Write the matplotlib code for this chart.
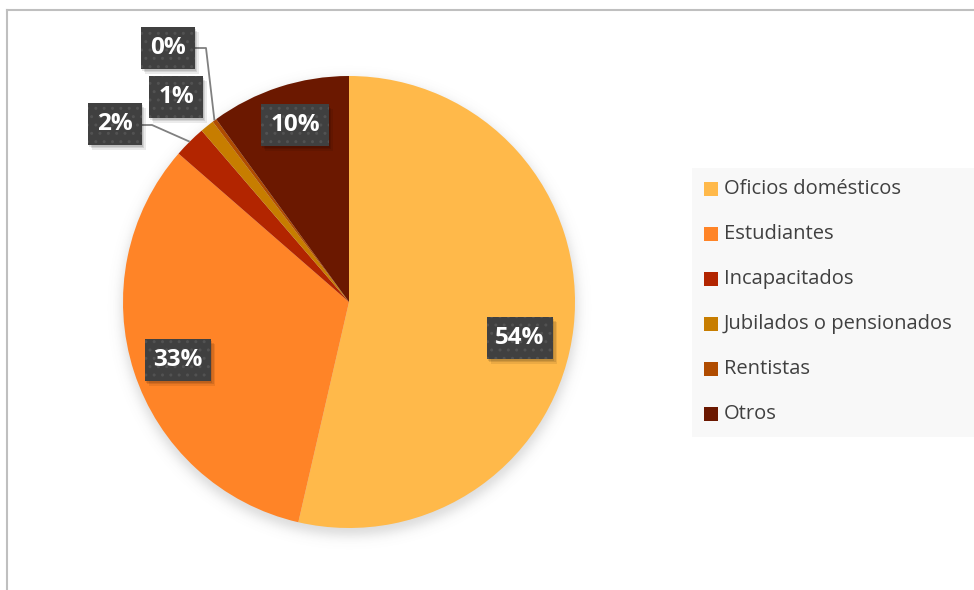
import numpy as np
import matplotlib
matplotlib.use("Agg")
import matplotlib.pyplot as plt
from matplotlib.patches import Rectangle

# ---- data ----
categories = ["Oficios domésticos", "Estudiantes", "Incapacitados",
              "Jubilados o pensionados", "Rentistas", "Otros"]
values = [53.6, 32.8, 2.3, 1.0, 0.3, 10.0]
colors = ["#FFB94A", "#FF8427", "#B22500", "#C77D00", "#B04C00", "#6B1800"]

# ---- layout (pixel coordinates, y measured from top) ----
W, H = 974, 590
center_px = (349, 302)
radius_px = 226
label_pos_px = [(520, 338), (178, 360), (115, 124), (176, 97), (168, 48), (295, 125)]
leader = [False, False, True, False, True, False]

plt.rcParams['font.family'] = ['Open Sans', 'DejaVu Sans']

fig = plt.figure(figsize=(W / 100, H / 100), dpi=100)
ax = fig.add_axes([0, 0, 1, 1])
ax.set_xlim(0, W)
ax.set_ylim(0, H)
ax.axis('off')

def py(y):
    return H - y

cx, cy = center_px[0], py(center_px[1])

# soft shadow under the pie
xs = np.arange(0, W)
ys = np.arange(0, H)
X, Y = np.meshgrid(xs, ys)
d = np.hypot(X - cx, Y - (cy - 6))
alpha = 0.22 * 0.5 * (1 - np.tanh((d - radius_px - 2) / 7.0))
img = np.zeros((H, W, 4))
img[..., :3] = 0.35
img[..., 3] = alpha
ax.imshow(img, extent=(0, W, 0, H), origin='lower', zorder=0, interpolation='bilinear')

wedges, _ = ax.pie(values, colors=colors, startangle=90, counterclock=False,
                   center=(cx, cy), radius=radius_px,
                   wedgeprops=dict(linewidth=0), frame=False)
for w in wedges:
    w.set_zorder(1)
ax.set_xlim(0, W)
ax.set_ylim(0, H)
ax.set_aspect('equal')

# data labels
label_texts = []
for i, (w, v) in enumerate(zip(wedges, values)):
    lx, ly = label_pos_px[i]
    lyd = py(ly)
    txt = f"{v:.0f}%"
    t = ax.text(lx, lyd, txt, fontsize=17.5, fontweight='bold', color='white',
                ha='center', va='center', zorder=4,
                bbox=dict(boxstyle='square,pad=0.36', facecolor='#404040',
                          edgecolor='#525252', linewidth=0, hatch='..'))
    label_texts.append(t)
    if leader[i]:
        ang = np.deg2rad((w.theta1 + w.theta2) / 2)
        ex = cx + radius_px * np.cos(ang)
        ey = cy + radius_px * np.sin(ang)
        if i == 2:
            pts = [(140, py(125)), (152, py(125)), (ex, ey)]
        else:
            pts = [(193, py(48)), (206, py(48)), (ex, ey)]
        ax.plot([p[0] for p in pts], [p[1] for p in pts], color='#808080',
                linewidth=1.3, zorder=2, solid_capstyle='butt')

# shadows behind label boxes
fig.canvas.draw()
inv = ax.transData.inverted()
for t in label_texts:
    bb = t.get_bbox_patch().get_window_extent()
    (x0, y0), (x1, y1) = inv.transform([(bb.x0, bb.y0), (bb.x1, bb.y1)])
    for k, a in enumerate([0.10, 0.10, 0.08]):
        off = 1 + k * 1.5
        ax.add_patch(Rectangle((x0 + off, y0 - off - 1), x1 - x0, y1 - y0,
                               facecolor=(0, 0, 0, a), edgecolor='none', zorder=3))

# legend (manual)
ax.add_patch(Rectangle((692, py(437)), 282, 437 - 168, facecolor='#F8F8F8',
                       edgecolor='none', zorder=1))
for i, (cat, col) in enumerate(zip(categories, colors)):
    yc = 189 + i * 45
    ax.add_patch(Rectangle((704, py(yc + 7)), 14, 14, facecolor=col, edgecolor='none', zorder=2))
    ax.text(724, py(yc), cat, fontsize=14.5, color='#404040', ha='left', va='center', zorder=2)

# chart frame (partially visible)
ax.plot([6.5, 6.5], [0, py(10)], color='#BFBFBF', linewidth=1.5, zorder=5)
ax.plot([6.5, W], [py(10), py(10)], color='#BFBFBF', linewidth=1.5, zorder=5)

fig.savefig("out.png", dpi=100)
